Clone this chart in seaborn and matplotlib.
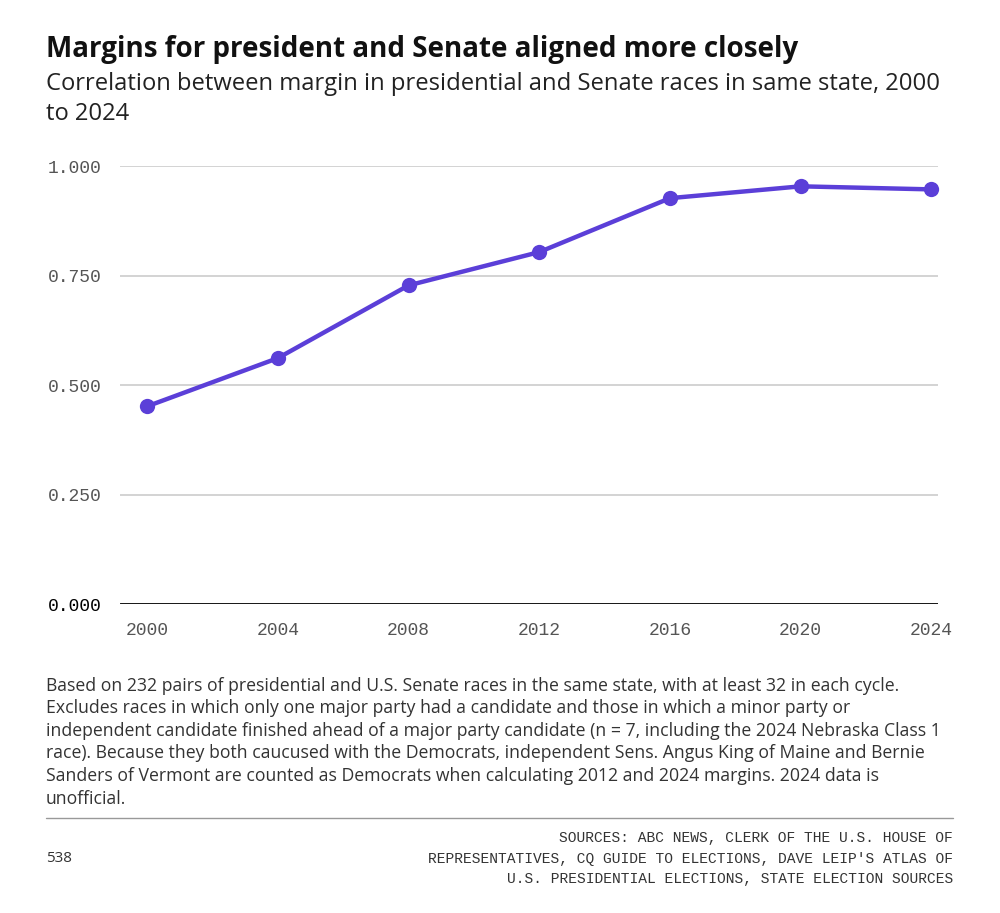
import matplotlib
matplotlib.use("Agg")
import matplotlib.pyplot as plt
import seaborn as sns
import pandas as pd

# data
years = [2000, 2004, 2008, 2012, 2016, 2020, 2024]
correlation = [0.452, 0.562, 0.728, 0.804, 0.927, 0.954, 0.947]
y_ticks = [0.0, 0.25, 0.5, 0.75, 1.0]

title = "Margins for president and Senate aligned more closely"
subtitle = ("Correlation between margin in presidential and Senate races in same state, 2000\n"
            "to 2024")
note = ("Based on 232 pairs of presidential and U.S. Senate races in the same state, with at least 32 in each cycle.\n"
        "Excludes races in which only one major party had a candidate and those in which a minor party or\n"
        "independent candidate finished ahead of a major party candidate (n = 7, including the 2024 Nebraska Class 1\n"
        "race). Because they both caucused with the Democrats, independent Sens. Angus King of Maine and Bernie\n"
        "Sanders of Vermont are counted as Democrats when calculating 2012 and 2024 margins. 2024 data is\n"
        "unofficial.")
sources = ("SOURCES: ABC NEWS, CLERK OF THE U.S. HOUSE OF\n"
           "REPRESENTATIVES, CQ GUIDE TO ELECTIONS, DAVE LEIP'S ATLAS OF\n"
           "U.S. PRESIDENTIAL ELECTIONS, STATE ELECTION SOURCES")

df = pd.DataFrame({"year": years, "corr": correlation})

sns.set_theme(style="white")
plt.rcParams['font.family'] = ['Open Sans', 'DejaVu Sans']

LINE_COLOR = '#5b3fd8'
TICK_COLOR = '#555555'
MONO = 'Liberation Mono'

fig = plt.figure(figsize=(10, 9.13), dpi=100)
ax = fig.add_axes([0.12, 0.338, 0.818, 0.480])

for t in y_ticks[1:]:
    ax.axhline(t, color='#cccccc', lw=1.2, zorder=0)
ax.axhline(0, color='black', lw=2, zorder=1)

sns.lineplot(data=df, x="year", y="corr", ax=ax, color=LINE_COLOR, lw=3.2,
             marker='o', markersize=11, markeredgewidth=0, zorder=3, clip_on=False)

ax.set_xlim(1999.17, 2024.2)
ax.set_ylim(0, 1.0)
ax.set_xticks(years)
ax.set_xticklabels([str(y) for y in years], fontfamily=MONO, fontsize=13, color=TICK_COLOR)
ax.set_yticks(y_ticks)
ax.set_yticklabels([f"{t:.3f}" for t in y_ticks], fontfamily=MONO, fontsize=13, color=TICK_COLOR)
ax.get_yticklabels()[0].set_color('black')
ax.tick_params(axis='both', length=0)
ax.tick_params(axis='y', pad=13)
ax.tick_params(axis='x', pad=13)
ax.set_xlabel("")
ax.set_ylabel("")
for s in ax.spines.values():
    s.set_visible(False)

fig.text(0.046, 0.946, title, fontsize=20, fontweight='bold', color='#111111', va='center')
fig.text(0.046, 0.921, subtitle, fontsize=17.1, color='#222222', va='top', linespacing=1.3)

fig.text(0.046, 0.259, note, fontsize=12.7, color='#333333', va='top', linespacing=1.33)

fig.add_artist(plt.Line2D([0.046, 0.953], [0.104, 0.104], color='#999999', lw=1))
fig.text(0.046, 0.060, "538", fontsize=11, color='#333333', va='center')
fig.text(0.953, 0.090, sources, fontsize=10.5, fontfamily=MONO, color='#333333',
         va='top', ha='right', linespacing=1.62)

fig.savefig("out.png", dpi=100)
